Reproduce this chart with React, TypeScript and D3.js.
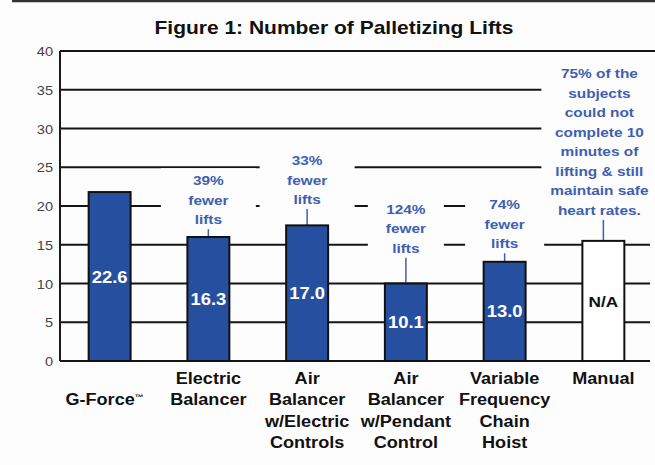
import React from "react";
import * as d3 from "d3";

// ---- data ----
const title = "Figure 1: Number of Palletizing Lifts";
const categoryLines: string[][] = [
  ["", "G-Force™"],
  ["Electric", "Balancer"],
  ["Air", "Balancer", "w/Electric", "Controls"],
  ["Air", "Balancer", "w/Pendant", "Control"],
  ["Variable", "Frequency", "Chain", "Hoist"],
  ["Manual"],
];
// bar heights as drawn in the figure
const barHeights = [21.8, 16.0, 17.5, 10.0, 12.8, 15.5];
// value labels printed inside the bars
const valueLabels = ["22.6", "16.3", "17.0", "10.1", "13.0", "N/A"];
const hasData = [true, true, true, true, true, false];
const yTicks = [0, 5, 10, 15, 20, 25, 30, 35, 40];
const annotationCategory = [1, 2, 3, 4, 5];
const annotationLines: string[][] = [
  ["39%", "fewer", "lifts"],
  ["33%", "fewer", "lifts"],
  ["124%", "fewer", "lifts"],
  ["74%", "fewer", "lifts"],
  [
    "75% of the",
    "subjects",
    "could not",
    "complete 10",
    "minutes of",
    "lifting & still",
    "maintain safe",
    "heart rates.",
  ],
];
// level (in chart units) of the last line of each annotation
const annotationLevels = [18.3, 20.9, 14.6, 15.2, 19.5];

// ---- layout / style ----
const W = 655;
const H = 465;
const FONT = "'Liberation Sans', Arial, Helvetica, sans-serif";
const BAR_FILL = "#26509f";
const ANN_COLOR = "#3f5fb1";
const annBoxWidths = [95, 95, 76, 79, 116];
const annOffsetX = [0, 0, 0, 0, -4];

function SText({
  x,
  y,
  sx,
  size,
  weight = "bold",
  fill = "#111",
  anchor = "middle",
  children,
}: {
  x: number;
  y: number;
  sx: number;
  size: number;
  weight?: string;
  fill?: string;
  anchor?: string;
  children: React.ReactNode;
}) {
  return (
    <g transform={`translate(${x},${y}) scale(${sx},1)`}>
      <text
        x={0}
        y={0}
        textAnchor={anchor as any}
        fontFamily={FONT}
        fontSize={size}
        fontWeight={weight}
        fill={fill}
      >
        {children}
      </text>
    </g>
  );
}

export default function App() {
  const y = d3.scaleLinear().domain([0, 40]).range([361, 51]);
  const x = d3
    .scaleBand<number>()
    .domain(d3.range(categoryLines.length))
    .range([60, 653])
    .paddingInner(0.575)
    .paddingOuter(0.29);
  const bw = x.bandwidth();
  const cx = (i: number) => (x(i) as number) + bw / 2;
  const lineGap = 19.5;

  return (
    <svg
      width={W}
      height={H}
      style={{ position: "absolute", left: 0, top: 0, background: "#fdfdfd" }}
    >
      {/* top border */}
      <line x1={12} x2={655} y1={1} y2={1} stroke="#333" strokeWidth={2.5} />

      {/* title */}
      <SText x={334} y={34} sx={1.2} size={17.5}>
        {title}
      </SText>

      {/* gridlines */}
      {yTicks
        .filter((t) => t > 0)
        .map((t) => (
          <line
            key={t}
            x1={60}
            x2={t === 40 ? 655 : 650}
            y1={y(t)}
            y2={y(t)}
            stroke="#151515"
            strokeWidth={1.8}
          />
        ))}

      {/* annotation backgrounds, texts and leaders */}
      {annotationLines.map((lines, k) => {
        const i = annotationCategory[k];
        const ax = cx(i) + annOffsetX[k];
        const lastY = y(annotationLevels[k]);
        const firstY = lastY - (lines.length - 1) * lineGap;
        const w = annBoxWidths[k];
        return (
          <g key={k}>
            <rect
              x={ax - w / 2}
              y={firstY - 12}
              width={w}
              height={lastY - firstY + 22}
              fill="#fdfdfd"
            />
            {lines.map((s, j) => (
              <SText
                key={j}
                x={ax}
                y={firstY + j * lineGap + 5}
                sx={1.14}
                size={13.5}
                fill={ANN_COLOR}
              >
                {s}
              </SText>
            ))}
            <line
              x1={cx(i)}
              x2={cx(i)}
              y1={lastY + 10}
              y2={y(barHeights[i])}
              stroke={ANN_COLOR}
              strokeWidth={1.5}
            />
          </g>
        );
      })}

      {/* y axis */}
      <line x1={60} x2={60} y1={y(40)} y2={y(0)} stroke="#1a1a1a" strokeWidth={2} />
      <line x1={60} x2={650} y1={y(0)} y2={y(0)} stroke="#151515" strokeWidth={1.8} />
      {yTicks.map((t) => (
        <SText
          key={t}
          x={53}
          y={y(t) + 5}
          sx={1.08}
          size={13.5}
          weight="normal"
          fill="#444"
          anchor="end"
        >
          {t}
        </SText>
      ))}

      {/* bars */}
      {barHeights.map((v, i) => (
        <rect
          key={i}
          x={x(i)}
          y={y(v)}
          width={bw}
          height={y(0) - y(v)}
          fill={hasData[i] ? BAR_FILL : "#ffffff"}
          stroke="#111"
          strokeWidth={2}
        />
      ))}

      {/* value labels */}
      {barHeights.map((v, i) => (
        <SText
          key={i}
          x={cx(i)}
          y={(y(v) + y(0)) / 2 + 6}
          sx={1.15}
          size={hasData[i] ? 16 : 15}
          fill={hasData[i] ? "#ffffff" : "#111"}
        >
          {valueLabels[i]}
        </SText>
      ))}

      {/* category labels */}
      {categoryLines.map((lines, i) =>
        lines.map((s, j) =>
          s ? (
            <SText key={`${i}-${j}`} x={cx(i) - (s.endsWith("™") ? 5 : 0)} y={384 + j * 21.3} sx={1.13} size={16}>
              {s.endsWith("™") ? (
                <>
                  {s.slice(0, -1)}
                  <tspan fontSize={8} dy={-5}>
                    ™
                  </tspan>
                </>
              ) : (
                s
              )}
            </SText>
          ) : null
        )
      )}
    </svg>
  );
}
